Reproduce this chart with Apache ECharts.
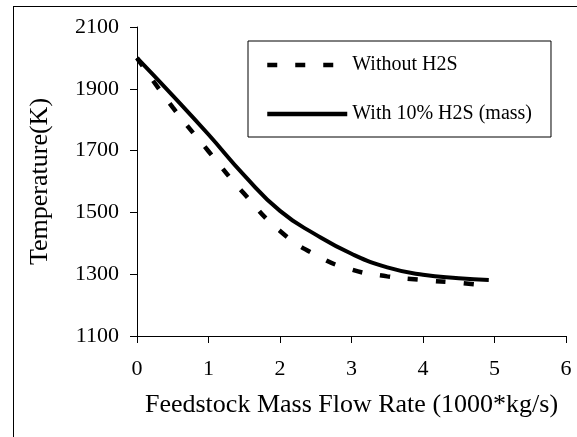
<!DOCTYPE html>
<html>
<head>
<meta charset="utf-8">
<script src="https://cdn.jsdelivr.net/npm/echarts@6/dist/echarts.min.js"></script>
<style>
  html, body { margin: 0; padding: 0; background: #fff; }
  #chart { width: 577px; height: 437px; }
</style>
</head>
<body>
<div id="chart"></div>
<script>
// values
var flowRate = [0, 0.5, 1, 1.5, 2, 2.5, 3, 3.5, 4, 4.5, 4.92];
var tempWithout = [2000, 1840, 1698, 1560, 1440, 1362, 1315, 1293, 1281, 1272, 1262];
var tempWithH2S = [2000, 1878, 1752, 1620, 1505, 1428, 1366, 1322, 1298, 1287, 1281];
var seriesNames = ['Without H2S', 'With 10% H2S (mass)'];

function pairs(xs, ys) {
  var out = [];
  for (var i = 0; i < xs.length; i++) out.push([xs[i], ys[i]]);
  return out;
}

var font = 'Liberation Serif';
var chart = echarts.init(document.getElementById('chart'));

var option = {
  animation: false,
  backgroundColor: '#fff',
  textStyle: { fontFamily: font, color: '#000' },
  graphic: [
    { type: 'line', shape: { x1: 13, y1: 6.5, x2: 577, y2: 6.5 }, style: { stroke: '#000', lineWidth: 1 } },
    { type: 'line', shape: { x1: 13.5, y1: 6, x2: 13.5, y2: 437 }, style: { stroke: '#000', lineWidth: 1 } }
  ],
  grid: {
    left: 137,
    top: 27,
    right: 11,
    bottom: 101,
    containLabel: false
  },
  legend: {
    orient: 'vertical',
    left: 248,
    top: 41,
    padding: [14, 19, 13, 17],
    borderColor: '#000',
    borderWidth: 1,
    itemWidth: 80,
    itemHeight: 16,
    itemGap: 29,
    itemStyle: { opacity: 0 },
    lineStyle: { width: 4.5 },
    textStyle: { fontFamily: font, fontSize: 20, color: '#000' },
    data: seriesNames
  },
  xAxis: {
    type: 'value',
    min: 0,
    max: 6,
    interval: 1,
    name: 'Feedstock Mass Flow Rate (1000*kg/s)',
    nameLocation: 'middle',
    nameGap: 56,
    nameTextStyle: { fontFamily: font, fontSize: 26, color: '#000' },
    axisLine: { lineStyle: { color: '#000', width: 1 } },
    axisTick: { length: 7, lineStyle: { color: '#000' } },
    axisLabel: { fontFamily: font, fontSize: 22, color: '#000', margin: 22 },
    splitLine: { show: false }
  },
  yAxis: {
    type: 'value',
    min: 1100,
    max: 2100,
    interval: 200,
    name: 'Temperature(K)',
    nameLocation: 'middle',
    nameGap: 84,
    nameTextStyle: { fontFamily: font, fontSize: 26, color: '#000' },
    axisLine: { show: true, lineStyle: { color: '#000', width: 1 } },
    axisTick: { show: true, length: 7, lineStyle: { color: '#000' } },
    axisLabel: {
      fontFamily: font, fontSize: 22, color: '#000', margin: 18,
      formatter: function (v) { return String(v); }
    },
    splitLine: { show: false }
  },
  series: [
    {
      name: seriesNames[0],
      type: 'line',
      smooth: true,
      symbol: 'none',
      data: pairs(flowRate, tempWithout),
      lineStyle: { color: '#000', width: 4.5, type: [10, 18] },
      itemStyle: { color: '#000' }
    },
    {
      name: seriesNames[1],
      type: 'line',
      smooth: true,
      symbol: 'none',
      data: pairs(flowRate, tempWithH2S),
      lineStyle: { color: '#000', width: 4, type: 'solid' },
      itemStyle: { color: '#000' }
    }
  ]
};

chart.setOption(option);
</script>
</body>
</html>
